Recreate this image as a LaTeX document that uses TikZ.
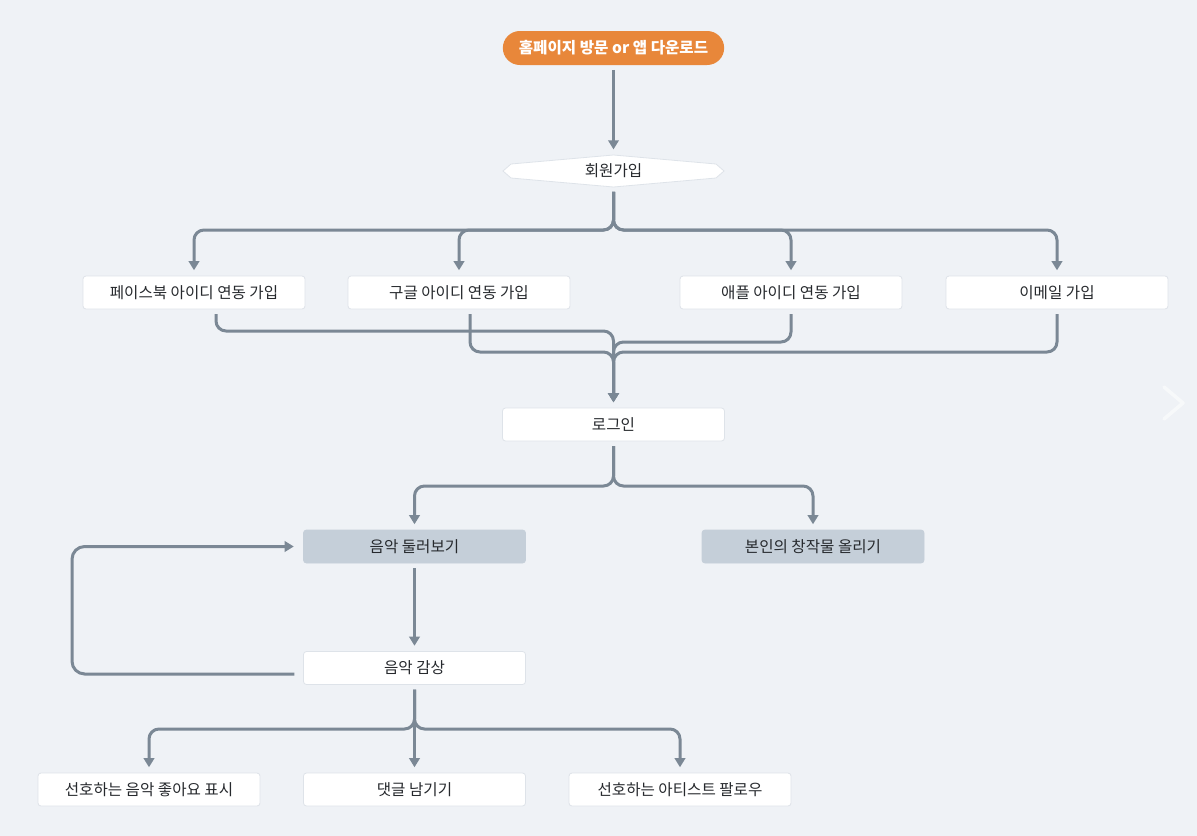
\documentclass[tikz,border=0pt]{standalone}
\usepackage{fontspec}
\newfontfamily\kr{Noto Sans CJK KR}
\usetikzlibrary{arrows.meta,calc}
\definecolor{bg}{HTML}{EFF2F6}
\definecolor{edge}{HTML}{7B8895}
\definecolor{orng}{HTML}{E8873A}
\definecolor{grayfill}{HTML}{C5CFD9}
\definecolor{boxline}{HTML}{DEE3E9}
\definecolor{txt}{HTML}{26292D}
\tikzset{
  box/.style={rectangle, rounded corners=2.25pt, minimum width=166.5pt, minimum height=24.75pt,
    inner sep=0pt, fill=white, draw=boxline, line width=0.6pt, text=txt},
  graybox/.style={box, fill=grayfill, draw=grayfill},
  startbox/.style={rectangle, rounded corners=12.75pt, minimum width=166pt, minimum height=25.5pt,
    inner sep=0pt, fill=orng, text=white, font=\kr\bfseries\fontsize{11.7pt}{13.5pt}\selectfont},
  conn/.style={draw=edge, line width=2.25pt, rounded corners=7.5pt,
    -{Triangle[width=7.8pt,length=6.8pt]}, shorten >=4pt, shorten <=3.5pt},
}
\begin{document}
\begin{tikzpicture}[x=0.75pt,y=-0.75pt, font=\kr\fontsize{11.7pt}{13.5pt}\selectfont]
\useasboundingbox (0,0) rectangle (1197,836);
\fill[bg] (0,0) rectangle (1197,836);

% chevron icon
\draw[white, line width=2.6pt, line cap=round, line join=round, opacity=0.55]
  (1164,387) -- (1183,403) -- (1164,419);

% nodes
\node[startbox] (top) at (613.5,48) {홈페이지 방문 or 앱 다운로드};

\fill[white, draw=boxline, line width=0.6pt]
  (503,171) -- (511,164) -- (613.5,155) -- (716,164) -- (724,171) -- (716,178) -- (613.5,187) -- (511,178) -- cycle;
\node[minimum width=165.75pt, minimum height=24pt, inner sep=0pt, text=txt] (reg) at (613.5,171) {회원가입};

\node[box] (fb) at (194,292.5) {페이스북 아이디 연동 가입};
\node[box] (gg) at (459,292.5) {구글 아이디 연동 가입};
\node[box] (ap) at (791,292.5) {애플 아이디 연동 가입};
\node[box] (em) at (1057,292.5) {이메일 가입};

\node[box] (login) at (613.5,424.5) {로그인};

\node[graybox] (browse) at (414.5,546.5) {음악 둘러보기};
\node[graybox] (upload) at (813,546.5) {본인의 창작물 올리기};

\node[box] (listen) at (414.5,668) {음악 감상};

\node[box] (like) at (149,789.5) {선호하는 음악 좋아요 표시};
\node[box] (comment) at (414.5,789.5) {댓글 남기기};
\node[box] (follow) at (680,789.5) {선호하는 아티스트 팔로우};

% junction coordinates
\coordinate (s1) at (613.5,230);
\coordinate (j1) at (613.5,331);
\coordinate (j2) at (613.5,342);
\coordinate (j3) at (613.5,352);
\coordinate (s2) at (613.5,486);
\coordinate (lp) at (72,610);
\coordinate (s3) at (414.5,729);

% connectors
\draw[conn] (top) -- (reg);

\draw[conn] (reg.south) -- (s1) -| (fb.north);
\draw[conn] (reg.south) -- (s1) -| (gg.north);
\draw[conn] (reg.south) -- (s1) -| (ap.north);
\draw[conn] (reg.south) -- (s1) -| (em.north);

\draw[conn] ([xshift=16.5pt]fb.south) |- (j1) -- (login.north);
\draw[conn] ([xshift=8.25pt]gg.south) |- (j3) -- (login.north);
\draw[conn] (ap.south) |- (j2) -- (login.north);
\draw[conn] (em.south) |- (j3) -- (login.north);

\draw[conn] (login.south) -- (s2) -| (browse.north);
\draw[conn] (login.south) -- (s2) -| (upload.north);

\draw[conn] (browse) -- (listen);
\draw[conn, rounded corners=9.5pt, shorten <=6.5pt, shorten >=7pt] ([yshift=-4.5pt]listen.west) -| (lp) |- (browse.west);

\draw[conn] (listen.south) -- (s3) -| (like.north);
\draw[conn] (listen.south) -- (comment.north);
\draw[conn] (listen.south) -- (s3) -| (follow.north);
\end{tikzpicture}
\end{document}
